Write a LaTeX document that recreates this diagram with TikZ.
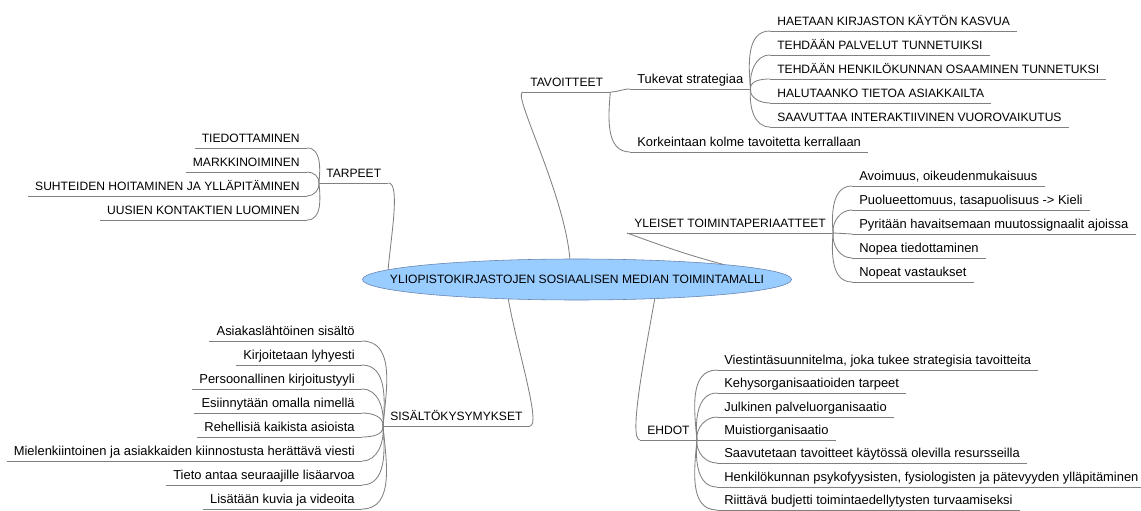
\documentclass[tikz,border=0pt]{standalone}
\usepackage{fontspec}
\setmainfont{Liberation Sans}
\usepackage{tikz}
\usetikzlibrary{shapes.geometric}
\newcommand{\capsfont}{\fontsize{8.6}{10}\selectfont}
\newcommand{\leaffont}{\fontsize{9.2}{11}\selectfont}
\definecolor{linegray}{RGB}{128,128,128}
\definecolor{rootblue}{RGB}{153,204,255}
\definecolor{rootline}{RGB}{100,130,175}

\begin{document}
\begin{tikzpicture}[x=0.025cm, y=0.025cm,
	conn/.style={draw=linegray, line width=0.6pt},
	root/.style={ellipse, draw=rootline, fill=rootblue, minimum width=10.725cm, minimum height=1.025cm, inner sep=0pt, font=\capsfont},
	leaf/.style={inner xsep=0.175cm, inner ysep=0pt, text depth=0.125cm, font=\leaffont, append after command={(\tikzlastnode.south west) edge[conn] (\tikzlastnode.south east)}},
	capsleaf/.style={leaf, font=\capsfont},
	rup/.style={out=95, in=180},
	rdown/.style={out=-95, in=180},
	lup/.style={out=85, in=0},
	ldown/.style={out=-85, in=0}]
		\useasboundingbox (0,0) rectangle (1141,-511);
		\node[root] (root) at (577,-279.5) {\makebox[0pt]{YLIOPISTOKIRJASTOJEN SOSIAALISEN MEDIAN TOIMINTAMALLI}};
		\node[capsleaf, anchor=south west] (tavoitteet) at (523,-92) {TAVOITTEET};
		\node[leaf, anchor=south west] (tukevat) at (630,-89) {Tukevat strategiaa};
		\node[leaf, anchor=south west] (korkeintaan) at (630,-152) {Korkeintaan kolme tavoitetta kerrallaan};
		\node[capsleaf, anchor=south west] (haetaan) at (770,-31) {HAETAAN KIRJASTON KÄYTÖN KASVUA};
		\node[capsleaf, anchor=south west] (palvelut) at (770,-55) {TEHDÄÄN PALVELUT TUNNETUIKSI};
		\node[capsleaf, anchor=south west] (osaaminen) at (770,-79) {TEHDÄÄN HENKILÖKUNNAN OSAAMINEN TUNNETUKSI};
		\node[capsleaf, anchor=south west] (halutaanko) at (770,-103) {HALUTAANKO TIETOA ASIAKKAILTA};
		\node[capsleaf, anchor=south west] (saavuttaa) at (770,-127) {SAAVUTTAA INTERAKTIIVINEN VUOROVAIKUTUS};
		\draw[conn] (root.109) to[out=95, in=180, in distance=0.3cm] (tavoitteet.south west);
		\draw[conn] (tavoitteet.south east) to[out=0, in=180] (tukevat.south west);
		\draw[conn] (tavoitteet.south east) to[rdown] (korkeintaan.south west);
		\draw[conn] (tukevat.south east) to[rup] (haetaan.south west);
		\draw[conn] (tukevat.south east) to[rup] (palvelut.south west);
		\draw[conn] (tukevat.south east) to[rup] (osaaminen.south west);
		\draw[conn] (tukevat.south east) to[rdown] (halutaanko.south west);
		\draw[conn] (tukevat.south east) to[rdown] (saavuttaa.south west);
		\node[capsleaf, anchor=south west] (tarpeet) at (319,-183) {TARPEET};
		\node[capsleaf, anchor=south east] (tiedottaminen) at (307,-148) {TIEDOTTAMINEN};
		\node[capsleaf, anchor=south east] (markkinoiminen) at (307,-172) {MARKKINOIMINEN};
		\node[capsleaf, anchor=south east] (suhteet) at (307,-196) {SUHTEIDEN HOITAMINEN JA YLLÄPITÄMINEN};
		\node[capsleaf, anchor=south east] (kontaktit) at (307,-220) {UUSIEN KONTAKTIEN LUOMINEN};
		\draw[conn] (root.177) to[out=85, in=0, in distance=0.3cm] (tarpeet.south east);
		\draw[conn] (tarpeet.south west) to[lup] (tiedottaminen.south east);
		\draw[conn] (tarpeet.south west) to[lup] (markkinoiminen.south east);
		\draw[conn] (tarpeet.south west) to[ldown] (suhteet.south east);
		\draw[conn] (tarpeet.south west) to[ldown] (kontaktit.south east);
		\node[capsleaf, anchor=south west] (yleiset) at (627,-233) {YLEISET TOIMINTAPERIAATTEET};
		\node[leaf, anchor=south west] (avoimuus) at (852,-186) {Avoimuus, oikeudenmukaisuus};
		\node[leaf, anchor=south west] (puolueettomuus) at (852,-210) {Puolueettomuus, tasapuolisuus -> Kieli};
		\node[leaf, anchor=south west] (pyritaan) at (852,-234) {Pyritään havaitsemaan muutossignaalit ajoissa};
		\node[leaf, anchor=south west] (tiedottaminen2) at (852,-258) {Nopea tiedottaminen};
		\node[leaf, anchor=south west] (vastaukset) at (852,-282) {Nopeat vastaukset};
		\draw[conn] (root.6) to[out=165, in=-20] (yleiset.south west);
		\draw[conn] (yleiset.south east) to[rup] (avoimuus.south west);
		\draw[conn] (yleiset.south east) to[rup] (puolueettomuus.south west);
		\draw[conn] (yleiset.south east) -- (pyritaan.south west);
		\draw[conn] (yleiset.south east) to[rdown] (tiedottaminen2.south west);
		\draw[conn] (yleiset.south east) to[rdown] (vastaukset.south west);
		\node[capsleaf, anchor=south west] (sisalto) at (383,-426) {SISÄLTÖKYSYMYKSET};
		\node[leaf, anchor=south east] (asiakas) at (362,-341) {Asiakaslähtöinen sisältö};
		\node[leaf, anchor=south east] (lyhyesti) at (362,-365) {Kirjoitetaan lyhyesti};
		\node[leaf, anchor=south east] (tyyli) at (362,-389) {Persoonallinen kirjoitustyyli};
		\node[leaf, anchor=south east] (nimi) at (362,-413) {Esiinnytään omalla nimellä};
		\node[leaf, anchor=south east] (rehellisia) at (362,-437) {Rehellisiä kaikista asioista};
		\node[leaf, anchor=south east] (viesti) at (362,-461) {Mielenkiintoinen ja asiakkaiden kiinnostusta herättävä viesti};
		\node[leaf, anchor=south east] (lisaarvo) at (362,-485) {Tieto antaa seuraajille lisäarvoa};
		\node[leaf, anchor=south east] (kuvat) at (362,-509) {Lisätään kuvia ja videoita};
		\draw[conn] (root.196) to[out=-80, in=0, in distance=0.3cm] (sisalto.south east);
		\draw[conn] (sisalto.south west) to[lup] (asiakas.south east);
		\draw[conn] (sisalto.south west) to[lup] (lyhyesti.south east);
		\draw[conn] (sisalto.south west) to[lup] (tyyli.south east);
		\draw[conn] (sisalto.south west) to[lup] (nimi.south east);
		\draw[conn] (sisalto.south west) to[ldown] (rehellisia.south east);
		\draw[conn] (sisalto.south west) to[ldown] (viesti.south east);
		\draw[conn] (sisalto.south west) to[ldown] (lisaarvo.south east);
		\draw[conn] (sisalto.south west) to[ldown] (kuvat.south east);
		\node[capsleaf, anchor=south west] (ehdot) at (640,-440) {EHDOT};
		\node[leaf, anchor=south west] (suunnitelma) at (717,-370) {Viestintäsuunnitelma, joka tukee strategisia tavoitteita};
		\node[leaf, anchor=south west] (kehys) at (717,-393) {Kehysorganisaatioiden tarpeet};
		\node[leaf, anchor=south west] (julkinen) at (717,-417) {Julkinen palveluorganisaatio};
		\node[leaf, anchor=south west] (muisti) at (717,-440) {Muistiorganisaatio};
		\node[leaf, anchor=south west] (resurssit) at (717,-463) {Saavutetaan tavoitteet käytössä olevilla resursseilla};
		\node[leaf, anchor=south west] (henkilokunta) at (717,-487) {Henkilökunnan psykofyysisten, fysiologisten ja pätevyyden ylläpitäminen};
		\node[leaf, anchor=south west] (budjetti) at (717,-510) {Riittävä budjetti toimintaedellytysten turvaamiseksi};
		\draw[conn] (root.-14) to[out=-100, in=180, in distance=0.3cm] (ehdot.south west);
		\draw[conn] (ehdot.south east) to[rup] (suunnitelma.south west);
		\draw[conn] (ehdot.south east) to[rup] (kehys.south west);
		\draw[conn] (ehdot.south east) to[rup] (julkinen.south west);
		\draw[conn] (ehdot.south east) -- (muisti.south west);
		\draw[conn] (ehdot.south east) to[rdown] (resurssit.south west);
		\draw[conn] (ehdot.south east) to[rdown] (henkilokunta.south west);
		\draw[conn] (ehdot.south east) to[rdown] (budjetti.south west);
	\end{tikzpicture}
\end{document}
